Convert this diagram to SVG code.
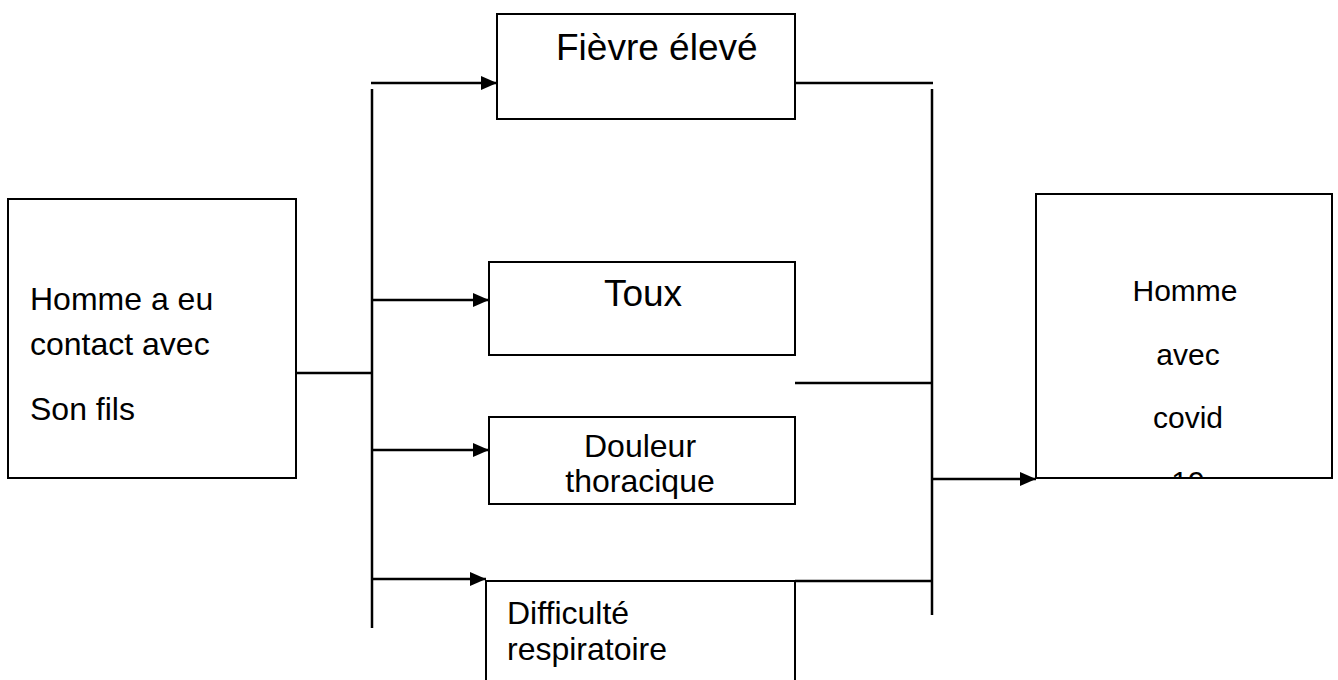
<svg xmlns="http://www.w3.org/2000/svg" width="1338" height="680" viewBox="0 0 1338 680">
  <style>
    .box { fill: #ffffff; stroke: #000000; stroke-width: 2; }
    .wire { fill: none; stroke: #000000; stroke-width: 2.5; }
    .lbl { font-family: "Liberation Sans", Arial, sans-serif; font-size: 32px; fill: #000000; }
    .big { font-size: 37px; }
    .small { font-size: 30px; }
    .mid { text-anchor: middle; }
  </style>
  <defs>
    <marker id="arrow" viewBox="0 0 16 14" refX="16" refY="7" markerWidth="16" markerHeight="14" markerUnits="userSpaceOnUse" orient="auto">
      <path d="M0,0 L16,7 L0,14 Z" fill="#000000"/>
    </marker>
    <clipPath id="resultClip">
      <rect x="1036" y="194" width="296" height="284"/>
    </clipPath>
  </defs>
  <rect width="1338" height="680" fill="#ffffff"/>

  <!-- connectors -->
  <g id="connectors">
    <line class="wire" x1="296" y1="373" x2="372" y2="373"/>
    <line class="wire" x1="372" y1="89" x2="372" y2="628"/>
    <line class="wire" x1="371" y1="83" x2="497" y2="83" marker-end="url(#arrow)"/>
    <line class="wire" x1="371" y1="300" x2="489" y2="300" marker-end="url(#arrow)"/>
    <line class="wire" x1="371" y1="450" x2="489" y2="450" marker-end="url(#arrow)"/>
    <line class="wire" x1="371" y1="579" x2="486" y2="579" marker-end="url(#arrow)"/>
    <line class="wire" x1="795" y1="83" x2="933" y2="83"/>
    <line class="wire" x1="795" y1="383" x2="933" y2="383"/>
    <line class="wire" x1="795" y1="581" x2="933" y2="581"/>
    <line class="wire" x1="932" y1="89" x2="932" y2="615"/>
    <line class="wire" x1="931" y1="479" x2="1036" y2="479" marker-end="url(#arrow)"/>
  </g>

  <!-- source node -->
  <g id="contact">
    <rect class="box" x="8" y="199" width="288" height="279"/>
    <text class="lbl" x="30" y="310">Homme a eu</text>
    <text class="lbl" x="30" y="355">contact avec</text>
    <text class="lbl" x="30" y="420">Son fils</text>
  </g>

  <!-- symptoms -->
  <g id="fievre">
    <rect class="box" x="497" y="14" width="298" height="105"/>
    <text class="lbl big" x="556" y="60">Fièvre élevé</text>
  </g>

  <g id="toux">
    <rect class="box" x="489" y="262" width="306" height="93"/>
    <text class="lbl big mid" x="643" y="306">Toux</text>
  </g>

  <g id="douleur">
    <rect class="box" x="489" y="417" width="306" height="87"/>
    <text class="lbl mid" x="640" y="457">Douleur</text>
    <text class="lbl mid" x="640" y="492">thoracique</text>
  </g>

  <g id="difficulte">
    <rect class="box" x="486" y="581" width="309" height="110"/>
    <text class="lbl" x="507" y="624">Difficulté</text>
    <text class="lbl" x="507" y="660">respiratoire</text>
  </g>

  <!-- result node; the last line is cut off by the frame -->
  <g id="covid">
    <rect class="box" x="1036" y="194" width="296" height="284"/>
    <g clip-path="url(#resultClip)">
      <text class="lbl small mid" x="1185" y="301">Homme</text>
      <text class="lbl small mid" x="1188" y="365">avec</text>
      <text class="lbl small mid" x="1188" y="428">covid</text>
      <text class="lbl small mid" x="1188" y="492">19</text>
    </g>
    <rect x="1036" y="194" width="296" height="284" fill="none" stroke="#000000" stroke-width="2"/>
  </g>
</svg>
